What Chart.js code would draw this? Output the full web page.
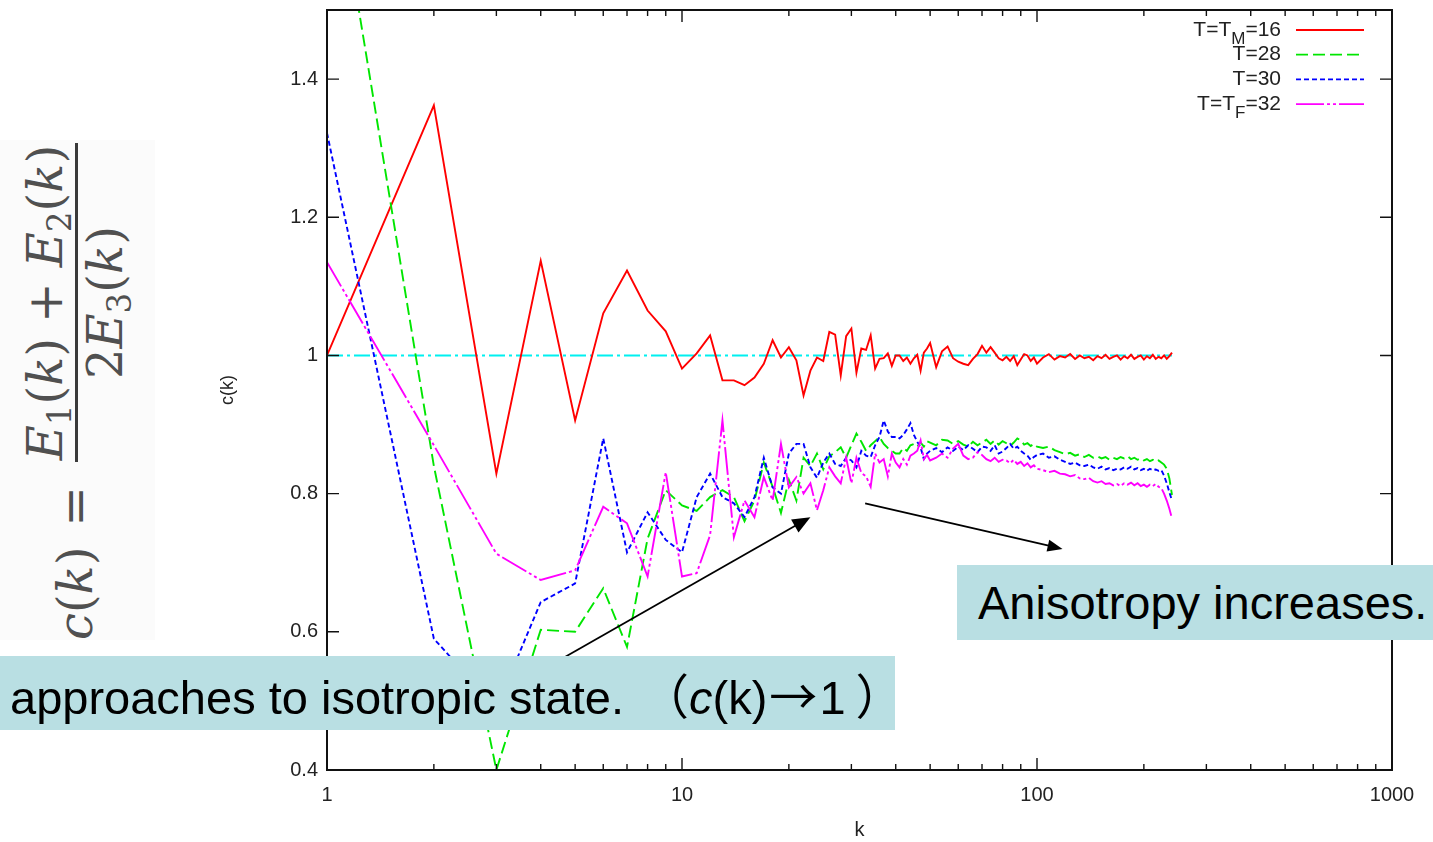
<!DOCTYPE html>
<html>
<head>
<meta charset="utf-8">
<script src="https://cdn.jsdelivr.net/npm/chart.js@4.4.1/dist/chart.umd.min.js"></script>
<style>
  html, body { margin: 0; padding: 0; background: #fff; }
  #wrap { position: relative; width: 1433px; height: 842px; overflow: hidden; }
  #c { position: absolute; left: 0; top: 0; }
  #formulaBg { position: absolute; left: 0; top: 140px; width: 155px; height: 500px; background: #fbfbfb; }
  #formula {
    position: absolute; left: -175px; top: 330px; width: 500px; height: 120px;
    transform: rotate(-90deg); transform-origin: 50% 50%;
    display: flex; align-items: center; white-space: nowrap;
    font-family: "DejaVu Serif", "Liberation Serif", serif; font-size: 48px; color: #505050;
  }
  #formula i { font-style: italic; }
  #formula sub { font-size: 0.68em; vertical-align: -0.28em; line-height: 0; }
  .frac { display: inline-flex; flex-direction: column; align-items: center; }
  .frac .bar { align-self: stretch; border-top: 3px solid #3a3a3a; }
  .frac .num { padding: 0 2px 4px 2px; line-height: 1.05; }
  .frac .den { padding-top: 2px; line-height: 1.05; }
  .note {
    position: absolute; background: #b9dfe3; color: #000;
    font-family: "Liberation Sans", Arial, sans-serif; font-size: 47px; white-space: nowrap;
  }
  .cjk { font-family: "Noto Sans CJK JP", "Noto Sans CJK SC", sans-serif; font-size: 48px; }
  #note1 { left: 0; top: 656px; width: 885px; height: 74px; line-height: 74px; padding-left: 10px; }
  #note2 { left: 957px; top: 565px; width: 455px; height: 75px; line-height: 75px; padding-left: 21px; }
</style>
</head>
<body>
<div id="wrap">
  <canvas id="c" width="1433" height="842"></canvas>
  <div id="formulaBg"></div>
  <div id="formula">
    <span><i>c</i>(<i>k</i>)</span>
    <span style="margin:0 24px 0 20px">=</span>
    <span class="frac">
      <span class="num"><i>E</i><sub>1</sub>(<i>k</i>) + <i>E</i><sub>2</sub>(<i>k</i>)</span>
      <span class="bar"></span>
      <span class="den">2<i>E</i><sub>3</sub>(<i>k</i>)</span>
    </span>
  </div>
  <div class="note" id="note1">approaches to isotropic state. <span class="cjk" style="margin-left:4px">（</span><i>c</i>(k)<span class="cjk" style="margin:0 2px">→</span>1<span class="cjk" style="margin-left:10px">）</span></div>
  <div class="note" id="note2">Anisotropy increases.</div>
</div>
<script>
// ---------------- data ----------------
const kValues = [
  1,2,3,4,5,6,7,8,9,10,
  11,12,13,14,15,16,17,18,19,20,
  21,22,23,24,25,26,27,28,29,30,
  31,32,33,34,35,36,37,38,39,40,
  41,42,43,44,45,46,47,48,49,50,
  52,54,56,58,60,62,64,66,68,70,
  72,74,76,78,80,82,84,86,88,90,
  92,94,96,98,100,
  104,108,112,116,120,124,128,132,136,140,
  144,148,152,156,160,164,168,172,176,180,
  184,188,192,196,200,204,208,212,216,220,
  224,228,232,236,240
];

const cT16 = [
  1.000, 1.362, 0.829, 1.137, 0.906, 1.061, 1.123, 1.065, 1.035, 0.981,
  1.003, 1.029, 0.964, 0.964, 0.957, 0.968, 0.988, 1.022, 0.997, 1.012,
  0.993, 0.942, 0.978, 0.997, 0.992, 1.034, 1.030, 0.971, 1.028, 1.039,
  0.975, 1.010, 1.008, 1.029, 0.981, 0.995, 0.996, 1.003, 0.985, 1.000,
  1.000, 0.992, 0.997, 0.988, 0.996, 1.001, 0.978, 1.004, 1.010, 1.018,
  0.983, 1.006, 1.013, 0.996, 0.991, 0.988, 0.986, 0.995, 1.002, 1.014,
  1.004, 1.012, 1.004, 0.996, 0.993, 0.998, 0.992, 0.999, 0.986, 0.994,
  1.002, 1.000, 0.992, 0.997, 0.988,
  0.997, 1.002, 0.994, 0.999, 0.997, 1.002, 0.995, 1.000, 0.996, 0.998,
  0.993, 0.999, 0.996, 1.001, 0.995, 0.998, 1.000, 0.994, 0.999, 0.996,
  1.001, 0.995, 0.998, 1.000, 0.994, 0.999, 0.996, 1.001, 0.995, 0.998,
  0.996, 1.000, 0.995, 0.999, 1.004
];

const cT28 = [
  1.780, 0.840, 0.400, 0.603, 0.600, 0.663, 0.578, 0.735, 0.805, 0.783,
  0.775, 0.795, 0.805, 0.795, 0.760, 0.790, 0.845, 0.810, 0.772, 0.820,
  0.790, 0.852, 0.840, 0.858, 0.835, 0.854, 0.860, 0.867, 0.852, 0.870,
  0.887, 0.875, 0.862, 0.870, 0.876, 0.882, 0.872, 0.866, 0.862, 0.858,
  0.858, 0.866, 0.862, 0.870, 0.872, 0.868, 0.874, 0.868, 0.876, 0.874,
  0.870, 0.878, 0.877, 0.872, 0.876, 0.871, 0.868, 0.875, 0.870, 0.874,
  0.878, 0.872, 0.877, 0.871, 0.876, 0.873, 0.869, 0.874, 0.880, 0.877,
  0.871, 0.873, 0.869, 0.872, 0.868,
  0.866, 0.868, 0.863, 0.860, 0.857, 0.859, 0.855, 0.857, 0.853, 0.856,
  0.852, 0.854, 0.851, 0.853, 0.849, 0.852, 0.850, 0.853, 0.851, 0.854,
  0.850, 0.852, 0.849, 0.851, 0.848, 0.850, 0.847, 0.849, 0.846, 0.848,
  0.845, 0.842, 0.836, 0.822, 0.798
];

const cT30 = [
  1.322, 0.590, 0.490, 0.643, 0.670, 0.880, 0.715, 0.773, 0.733, 0.715,
  0.795, 0.829, 0.795, 0.786, 0.766, 0.795, 0.852, 0.809, 0.800, 0.858,
  0.872, 0.872, 0.838, 0.823, 0.845, 0.858, 0.843, 0.840, 0.852, 0.848,
  0.838, 0.862, 0.855, 0.853, 0.870, 0.882, 0.906, 0.890, 0.882, 0.882,
  0.880, 0.885, 0.893, 0.902, 0.885, 0.875, 0.867, 0.850, 0.858, 0.862,
  0.866, 0.860, 0.867, 0.862, 0.868, 0.863, 0.870, 0.865, 0.860, 0.868,
  0.867, 0.862, 0.870, 0.858, 0.861, 0.866, 0.872, 0.865, 0.868, 0.862,
  0.858, 0.855, 0.849, 0.853, 0.856,
  0.858, 0.852, 0.854, 0.849, 0.846, 0.843, 0.845, 0.841, 0.840, 0.842,
  0.838, 0.836, 0.839, 0.835, 0.837, 0.834, 0.836, 0.835, 0.838, 0.836,
  0.839, 0.835, 0.837, 0.834, 0.836, 0.833, 0.836, 0.834, 0.835, 0.833,
  0.834, 0.826, 0.815, 0.802, 0.790
];

const cT32 = [
  1.135, 0.870, 0.713, 0.675, 0.689, 0.781, 0.757, 0.680, 0.831, 0.680,
  0.685, 0.740, 0.906, 0.737, 0.790, 0.766, 0.824, 0.790, 0.872, 0.809,
  0.824, 0.800, 0.815, 0.776, 0.805, 0.838, 0.825, 0.815, 0.852, 0.815,
  0.852, 0.830, 0.825, 0.810, 0.858, 0.845, 0.850, 0.825, 0.858, 0.845,
  0.838, 0.850, 0.842, 0.855, 0.858, 0.862, 0.877, 0.850, 0.856, 0.848,
  0.852, 0.858, 0.852, 0.865, 0.872, 0.855, 0.850, 0.852, 0.860, 0.856,
  0.850, 0.847, 0.852, 0.846, 0.849, 0.848, 0.844, 0.849, 0.843, 0.846,
  0.840, 0.844, 0.838, 0.841, 0.836,
  0.834, 0.831, 0.833, 0.829, 0.828, 0.825, 0.827, 0.822, 0.821, 0.823,
  0.818, 0.816, 0.818, 0.814, 0.815, 0.812, 0.814, 0.811, 0.815, 0.813,
  0.816, 0.812, 0.815, 0.811, 0.813, 0.810, 0.813, 0.811, 0.814, 0.810,
  0.808, 0.800, 0.790, 0.778, 0.764
];

// reference line c(k) = 1
const isoK = [1, 240];
const isoC = [1, 1];

const seriesNames = ['T=T_M=16', 'T=28', 'T=30', 'T=T_F=32'];

const xTickValues = [1, 10, 100, 1000];
const xTickLabels = ['1', '10', '100', '1000'];
const yTickValues = [0.4, 0.6, 0.8, 1.0, 1.2, 1.4];
const yTickLabels = ['0.4', '0.6', '0.8', '1', '1.2', '1.4'];

// arrows in data coordinates [k, c]
const arrow1From = [4.68, 0.5635], arrow1To = [23.0, 0.766];
const arrow2From = [32.8, 0.786], arrow2To = [118, 0.720];

// ---------------- chart ----------------
const FONT = '"Liberation Sans", Arial, sans-serif';
const toPts = (ys, ks) => ks.map((k, i) => ({ x: k, y: ys[i] }));

const styles = [
  { color: '#ff0000', dash: [] },
  { color: '#00e600', dash: [12, 5] },
  { color: '#0000ff', dash: [5, 3] },
  { color: '#ff00ff', dash: [28, 3, 3, 3, 3, 3] }
];

const decor = {
  id: 'decor',
  afterDatasetsDraw(chart) {
    const { ctx, chartArea: a, scales: { x, y } } = chart;
    ctx.save();
    ctx.setLineDash([]);
    ctx.strokeStyle = '#111';
    ctx.lineWidth = 1.4;
    ctx.beginPath();
    for (const v of xTickValues) {
      const px = x.getPixelForValue(v);
      ctx.moveTo(px, a.bottom); ctx.lineTo(px, a.bottom - 12);
      ctx.moveTo(px, a.top); ctx.lineTo(px, a.top + 12);
    }
    for (let d = 1; d < 1000; d *= 10) {
      for (let m = 2; m <= 9; m++) {
        const px = x.getPixelForValue(d * m);
        ctx.moveTo(px, a.bottom); ctx.lineTo(px, a.bottom - 6);
        ctx.moveTo(px, a.top); ctx.lineTo(px, a.top + 6);
      }
    }
    for (const v of yTickValues) {
      const py = y.getPixelForValue(v);
      ctx.moveTo(a.left, py); ctx.lineTo(a.left + 12, py);
      ctx.moveTo(a.right, py); ctx.lineTo(a.right - 12, py);
    }
    ctx.stroke();
    ctx.lineWidth = 2;
    ctx.strokeRect(a.left, a.top, a.right - a.left, a.bottom - a.top);

    // arrows
    ctx.strokeStyle = '#000';
    ctx.fillStyle = '#000';
    ctx.lineWidth = 1.8;
    const drawArrow = (f, t, L, W) => {
      const x0 = x.getPixelForValue(f[0]), y0 = y.getPixelForValue(f[1]);
      const x1 = x.getPixelForValue(t[0]), y1 = y.getPixelForValue(t[1]);
      const ang = Math.atan2(y1 - y0, x1 - x0);
      const c = Math.cos(ang), s = Math.sin(ang);
      ctx.beginPath();
      ctx.moveTo(x0, y0); ctx.lineTo(x1 - c * L * 0.8, y1 - s * L * 0.8);
      ctx.stroke();
      ctx.beginPath();
      ctx.moveTo(x1, y1);
      ctx.lineTo(x1 - L * c + W * s, y1 - L * s - W * c);
      ctx.lineTo(x1 - L * c - W * s, y1 - L * s + W * c);
      ctx.closePath();
      ctx.fill();
    };
    drawArrow(arrow1From, arrow1To, 18, 7.5);
    drawArrow(arrow2From, arrow2To, 15, 6);
    ctx.restore();
  },
  afterDraw(chart) {
    const { ctx, chartArea: a } = chart;
    ctx.save();
    const textRight = a.right - 111;
    const lineX0 = a.right - 96, lineX1 = a.right - 28;
    seriesNames.forEach((name, i) => {
      const yy = a.top + 20 + i * 24.7;
      const parts = [];
      const re = /_(.)/g;
      let last = 0, m;
      while ((m = re.exec(name)) !== null) {
        if (m.index > last) parts.push({ t: name.slice(last, m.index), sub: false });
        parts.push({ t: m[1], sub: true });
        last = m.index + 2;
      }
      if (last < name.length) parts.push({ t: name.slice(last), sub: false });
      const fMain = '21px ' + FONT, fSub = '17px ' + FONT;
      let total = 0;
      parts.forEach(p => { ctx.font = p.sub ? fSub : fMain; p.w = ctx.measureText(p.t).width; total += p.w; });
      let cx = textRight - total;
      ctx.fillStyle = '#222';
      ctx.textBaseline = 'middle';
      ctx.textAlign = 'left';
      parts.forEach(p => {
        ctx.font = p.sub ? fSub : fMain;
        ctx.fillText(p.t, cx, p.sub ? yy + 9 : yy);
        cx += p.w;
      });
      ctx.strokeStyle = styles[i].color;
      ctx.lineWidth = 1.8;
      ctx.setLineDash(styles[i].dash);
      ctx.beginPath();
      ctx.moveTo(lineX0, yy); ctx.lineTo(lineX1, yy);
      ctx.stroke();
    });
    ctx.restore();
  }
};

const datasets = [cT16, cT28, cT30, cT32].map((ys, i) => ({
  label: seriesNames[i],
  data: toPts(ys, kValues),
  borderColor: styles[i].color,
  borderDash: styles[i].dash,
  borderWidth: 1.9,
  order: 5 - i
}));
datasets.push({
  label: 'c=1',
  data: toPts(isoC, isoK),
  borderColor: '#00f0f0',
  borderDash: [16, 4, 3, 4],
  borderWidth: 2,
  order: 6
});

new Chart(document.getElementById('c'), {
  type: 'line',
  data: { datasets },
  options: {
    responsive: false,
    animation: false,
    parsing: false,
    normalized: true,
    elements: { point: { radius: 0 }, line: { tension: 0, fill: false } },
    layout: { padding: { left: 214, right: 41, top: 10, bottom: 0 } },
    plugins: { legend: { display: false }, tooltip: { enabled: false } },
    scales: {
      x: {
        type: 'logarithmic', min: 1, max: 1000,
        afterBuildTicks: s => { s.ticks = xTickValues.map(v => ({ value: v })); },
        afterFit: s => { s.height = 72; s.paddingLeft = 0; s.paddingRight = 0; },
        grid: { display: false, drawTicks: false },
        border: { display: false },
        ticks: {
          autoSkip: false, maxRotation: 0, padding: 13, color: '#222',
          font: { size: 20, family: FONT },
          callback: (v, i) => xTickLabels[i]
        },
        title: { display: true, text: 'k', color: '#222', font: { size: 20, family: FONT }, padding: { top: 0, bottom: 0 } }
      },
      y: {
        type: 'linear', min: 0.4, max: 1.5,
        afterBuildTicks: s => { s.ticks = yTickValues.map(v => ({ value: v })); },
        afterFit: s => { s.width = 113; s.paddingTop = 0; s.paddingBottom = 0; },
        grid: { display: false, drawTicks: false },
        border: { display: false },
        ticks: {
          padding: 9, color: '#222',
          font: { size: 20, family: FONT },
          callback: (v, i) => yTickLabels[i]
        },
        title: { display: true, text: 'c(k)', color: '#222', font: { size: 18, family: FONT }, padding: { top: 3, bottom: 0 } }
      }
    }
  },
  plugins: [decor]
});
</script>
</body>
</html>
